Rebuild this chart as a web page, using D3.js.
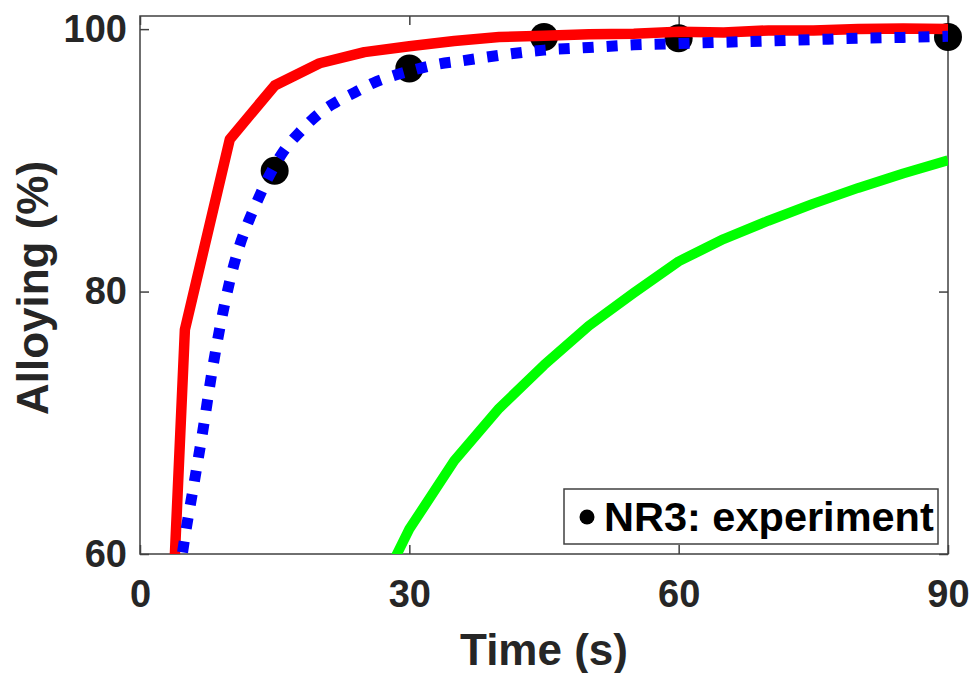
<!DOCTYPE html>
<html>
<head>
<meta charset="utf-8">
<script src="https://cdn.jsdelivr.net/npm/d3@7"></script>
<style>
  body { margin: 0; background: #fff; }
  svg { display: block; font-family: "Liberation Sans", Arial, sans-serif; font-weight: bold; }
  .tick text { fill: #262626; font-size: 38px; font-weight: bold; }
  .tick line { stroke: #404040; stroke-width: 1.5; }
</style>
</head>
<body>
<div id="chart"></div>
<script>
// model curves and experiment
var timeRed  = [0, 5, 10, 15, 20, 25, 30, 35, 40, 45, 50, 55, 60, 65, 70, 75, 80, 85, 90];
var alloyRed = [0, 77.1, 91.6, 95.7, 97.4, 98.25, 98.7, 99.1, 99.4, 99.5, 99.6, 99.65, 99.8, 99.75, 99.9, 99.9, 100.0, 100.05, 100.0];

var timeBlue  = [4, 5, 6, 7, 8, 9, 10, 11, 12, 13, 14, 15, 16, 18, 20, 22, 24, 26, 28, 30, 33, 36, 40, 45, 50, 55, 60, 65, 70, 75, 80, 85, 90];
var alloyBlue = [56.5, 61.3, 65.3, 69.4, 73.8, 77.6, 80.8, 83.3, 85.2, 86.8, 88.3, 89.6, 90.7, 92.3, 93.6, 94.5, 95.2, 95.9, 96.4, 96.8, 97.3, 97.6, 98.0, 98.4, 98.6, 98.8, 98.9, 99.0, 99.1, 99.2, 99.3, 99.37, 99.45];

var timeGreen  = [25, 30, 35, 40, 45, 50, 55, 60, 65, 70, 75, 80, 85, 90];
var alloyGreen = [55.0, 61.9, 67.1, 71.1, 74.4, 77.4, 79.9, 82.3, 84.0, 85.4, 86.7, 87.9, 89.0, 90.0];

var expTime  = [15, 30, 45, 60, 90];
var expAlloy = [89.2, 97.0, 99.4, 99.3, 99.4];

var xTicks = [0, 30, 60, 90];
var yTicks = [60, 80, 100];
var legendLabel = 'NR3: experiment';

var W = 973, H = 673;
var margin = {top: 16, right: 25, bottom: 119, left: 140};
var width = W - margin.left - margin.right,
    height = H - margin.top - margin.bottom;

var x = d3.scaleLinear().domain([0, 90]).range([0, width]);
var y = d3.scaleLinear().domain([60, 101]).range([height, 0]);

var svg = d3.select('#chart').append('svg')
    .attr('width', W)
    .attr('height', H);

var g = svg.append('g')
    .attr('transform', 'translate(' + margin.left + ',' + margin.top + ')');

g.append('clipPath').attr('id', 'plot-clip')
  .append('rect').attr('width', width).attr('height', height);

// axes, ticks pointing in
var tickLen = 9;
g.append('g')
  .attr('transform', 'translate(0,' + height + ')')
  .call(d3.axisBottom(x).tickValues(xTicks).tickSize(-tickLen).tickSizeOuter(0).tickPadding(26))
  .call(function(s) { s.select('.domain').remove(); });
g.append('g')
  .call(d3.axisTop(x).tickValues(xTicks).tickSize(-tickLen).tickSizeOuter(0).tickFormat(''))
  .call(function(s) { s.select('.domain').remove(); });
g.append('g')
  .call(d3.axisLeft(y).tickValues(yTicks).tickSize(-tickLen).tickSizeOuter(0).tickPadding(13))
  .call(function(s) { s.select('.domain').remove(); });
g.append('g')
  .attr('transform', 'translate(' + width + ',0)')
  .call(d3.axisRight(y).tickValues(yTicks).tickSize(-tickLen).tickSizeOuter(0).tickFormat(''))
  .call(function(s) { s.select('.domain').remove(); });

g.append('rect')
  .attr('width', width)
  .attr('height', height)
  .attr('fill', 'none')
  .attr('stroke', '#404040')
  .attr('stroke-width', 1.5);

// experiment points
g.append('g').selectAll('circle')
    .data(expTime)
  .enter().append('circle')
    .attr('cx', function(d) { return x(d); })
    .attr('cy', function(d, i) { return y(expAlloy[i]); })
    .attr('r', 14)
    .attr('fill', '#000');

function zip(ts, vs) {
  return ts.map(function(t, i) { return [t, vs[i]]; });
}

var lineLinear = d3.line()
  .x(function(d) { return x(d[0]); })
  .y(function(d) { return y(d[1]); });
var lineSmooth = d3.line()
  .curve(d3.curveMonotoneX)
  .x(function(d) { return x(d[0]); })
  .y(function(d) { return y(d[1]); });

var lines = g.append('g').attr('clip-path', 'url(#plot-clip)');

lines.append('path')
  .datum(zip(timeRed, alloyRed))
  .attr('d', lineLinear)
  .attr('fill', 'none')
  .attr('stroke', '#ff0000')
  .attr('stroke-width', 10.5)
  .attr('stroke-linejoin', 'round');

lines.append('path')
  .datum(zip(timeBlue, alloyBlue))
  .attr('d', lineSmooth)
  .attr('fill', 'none')
  .attr('stroke', '#0000ff')
  .attr('stroke-width', 11)
  .attr('stroke-dasharray', '11 13');

lines.append('path')
  .datum(zip(timeGreen, alloyGreen))
  .attr('d', lineLinear)
  .attr('fill', 'none')
  .attr('stroke', '#00ff00')
  .attr('stroke-width', 10)
  .attr('stroke-linejoin', 'round');

// legend
var legend = svg.append('g').attr('transform', 'translate(564,489)');
legend.append('rect')
  .attr('width', 374)
  .attr('height', 55)
  .attr('fill', '#fff')
  .attr('stroke', '#404040')
  .attr('stroke-width', 1.5);
legend.append('circle')
  .attr('cx', 23)
  .attr('cy', 28)
  .attr('r', 7.5)
  .attr('fill', '#000');
legend.append('text')
  .attr('x', 40)
  .attr('y', 42)
  .attr('font-size', 41.5)
  .attr('fill', '#000')
  .text(legendLabel);

// axis labels
svg.append('text')
  .attr('x', margin.left + width / 2)
  .attr('y', 665)
  .attr('text-anchor', 'middle')
  .attr('font-size', 44)
  .attr('fill', '#262626')
  .text('Time (s)');

svg.append('text')
  .attr('transform', 'translate(48,' + (margin.top + height / 2 + 3) + ') rotate(-90)')
  .attr('text-anchor', 'middle')
  .attr('font-size', 44)
  .attr('fill', '#262626')
  .text('Alloying (%)');
</script>
</body>
</html>
